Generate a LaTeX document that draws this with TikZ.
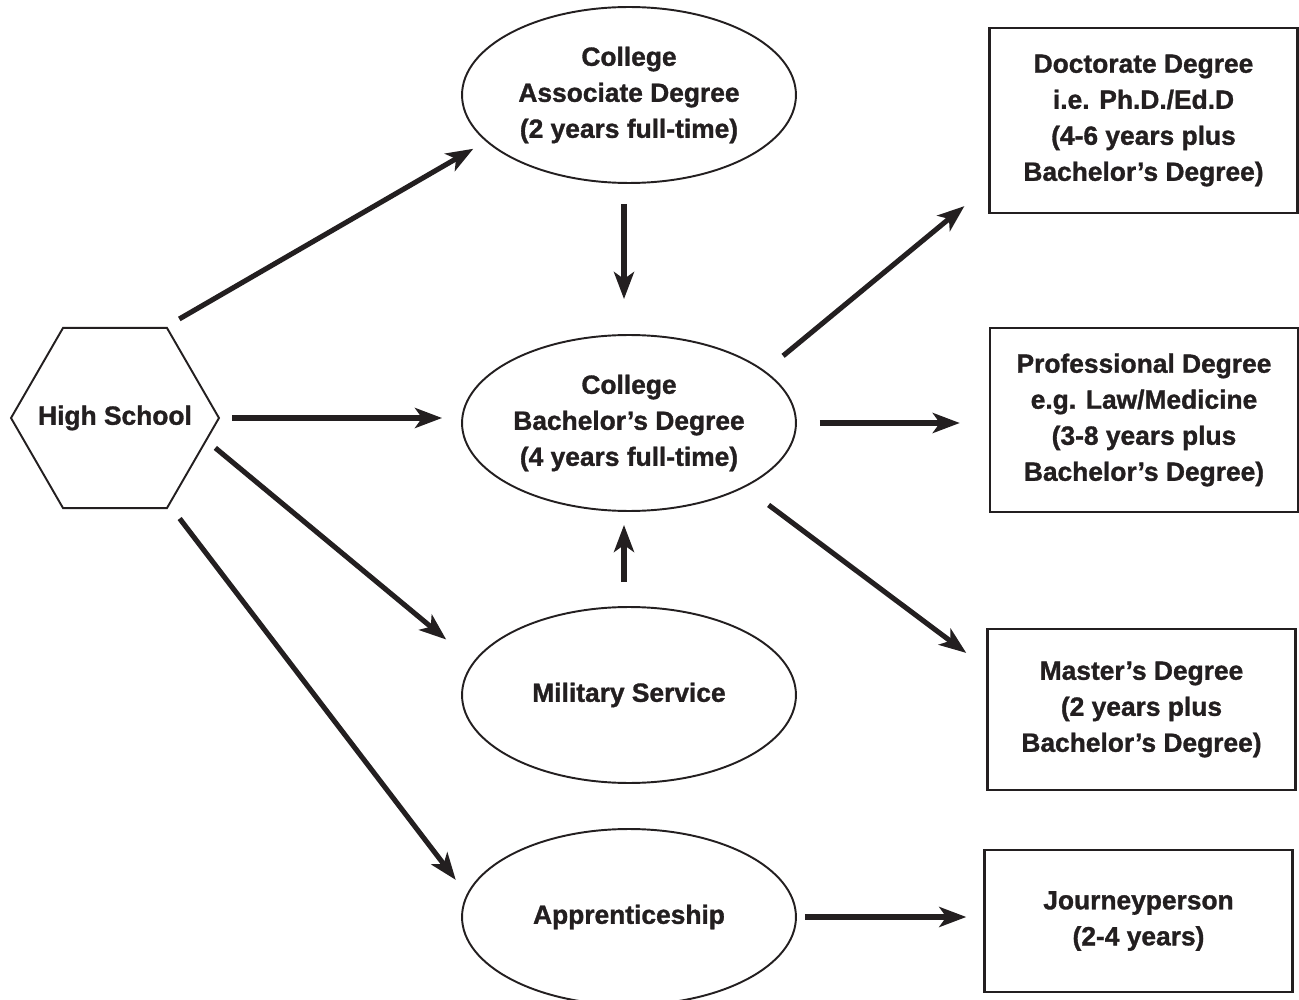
\documentclass[tikz,border=0pt]{standalone}
\usepackage{fontspec}
\setmainfont{Liberation Sans}[BoldFeatures={FakeBold=1.2}]
\usetikzlibrary{shapes.geometric,arrows.meta}
\definecolor{ink}{RGB}{35,31,32}

\tikzset{
  txt/.style={font=\fontsize{15}{20.5}\selectfont\bfseries,text=ink,align=center},
  hexa/.style={font=\fontsize{15}{20.5}\selectfont\bfseries,text=ink,draw=ink,line width=1.1pt,regular polygon,regular polygon sides=6,minimum size=4.16cm,inner sep=0pt},
  oval/.style={txt,draw=ink,line width=1.1pt,ellipse,minimum width=6.68cm,minimum height=3.52cm,inner sep=0pt},
  degbox/.style={txt,draw=ink,line width=1.4pt,rectangle,minimum width=6.16cm,inner sep=0pt},
  path/.style={ink,line width=2.9pt,-{Stealth[length=0.54cm,width=0.4cm,inset=0.14cm]}}
}

\begin{document}
\begin{tikzpicture}[x=0.02cm,y=-0.02cm]
    \useasboundingbox (0,0) rectangle (1299,1000);

    % 高中
    \node[hexa] (hs) at (115,418) {\makebox[0pt]{High School}};

    % 中间一列
    \node[oval] (assoc) at (629,95) {College\\Associate Degree\\(2 years full-time)};
    \node[oval] (bach) at (629,423) {College\\Bachelor’s Degree\\(4 years full-time)};
    \node[oval] (mil) at (629,695) {Military Service};
    \node[oval] (app) at (629,917) {Apprenticeship};

    % 右侧学位
    \node[degbox,minimum height=3.7cm] (doc) at (1143.5,120.5) {Doctorate Degree\\i.e. Ph.D./Ed.D\\(4-6 years plus\\Bachelor’s Degree)};
    \node[degbox,minimum height=3.68cm] (prof) at (1144,420) {Professional Degree\\e.g. Law/Medicine\\(3-8 years plus\\ Bachelor’s Degree)};
    \node[degbox,minimum height=3.22cm] (mast) at (1141.5,709.5) {Master’s Degree\\(2 years plus\\Bachelor’s Degree)};
    \node[degbox,minimum height=2.84cm] (jour) at (1138.5,921) {Journeyperson\\(2-4 years)};

    % 从高中出发
    \draw[path,shorten <=0.32cm,shorten >=0.29cm] (hs.61.9) -- (assoc.198.3);
    \draw[path,shorten <=0.24cm,shorten >=0.38cm] (hs.east) -- (hs.east -| bach.west);
    \draw[path,shorten <=0.22cm,shorten >=0.7cm] (hs.-14.3) -- (mil.168.1);
    \draw[path,shorten <=0.33cm,shorten >=0.36cm] (hs.-58.9) -- (app.172.7);

    % 进入学士
    \draw[path,shorten <=0.4cm,shorten >=0.7cm] ([xshift=-0.1cm]assoc.south) -- ([xshift=-0.1cm]bach.north);
    \draw[path,shorten <=0.48cm,shorten >=0.26cm] ([xshift=-0.1cm]mil.north) -- ([xshift=-0.1cm]bach.south);

    % 学士之后
    \draw[path,shorten <=0.47cm,shorten >=0.62cm] (bach.21.9) -- (doc.203.2);
    \draw[path,shorten <=0.46cm,shorten >=0.58cm] (bach.east) -- (bach.east -| prof.west);
    \draw[path,shorten <=0.59cm,shorten >=0.5cm] (bach.-29.6) -- (mast.165.4);

    % 学徒之后
    \draw[path,shorten <=0.16cm,shorten >=0.34cm] (app.east) -- (app.east -| jour.west);
\end{tikzpicture}
\end{document}
